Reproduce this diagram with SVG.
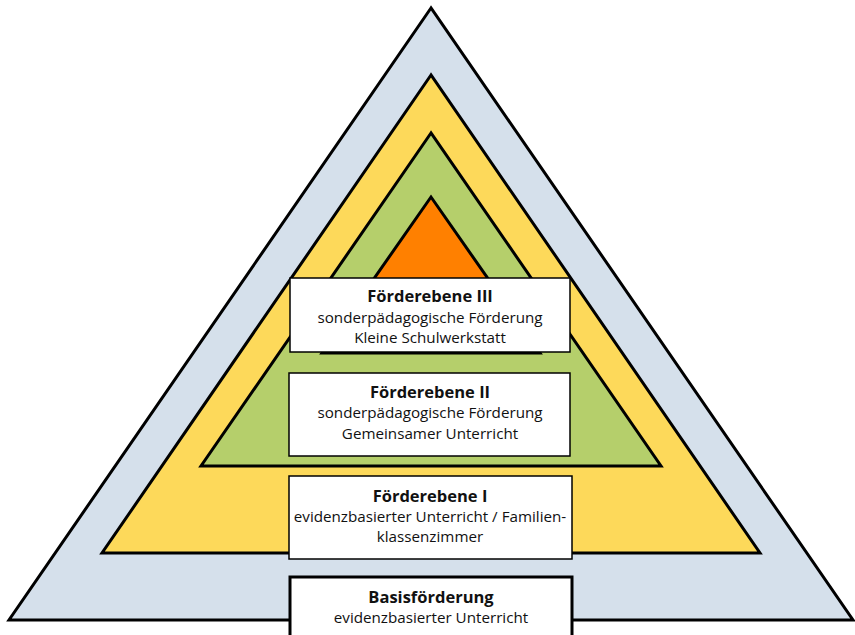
<svg xmlns="http://www.w3.org/2000/svg" width="855" height="635" viewBox="0 0 855 635">
<style>
.tri{stroke:#000;stroke-width:3;stroke-linejoin:miter}
.box{fill:#fff;stroke:#000;stroke-width:1.5}
.t{font-family:"Open Sans","Noto Sans","Liberation Sans",sans-serif;text-anchor:middle;fill:#111}
.h{font-size:16.5px;font-weight:bold}
.s{font-size:15.2px}
</style>
<rect width="855" height="635" fill="#fff"/>
<g id="layer-basis"><polygon class="tri" fill="#D5E0EB" points="431,8 9,620 853,620"/></g>
<g id="layer-1"><polygon class="tri" fill="#FDD95A" points="431,75 102,553 760,553"/></g>
<g id="layer-2"><polygon class="tri" fill="#B5CF6B" points="431,133 201,466 661,466"/></g>
<g id="layer-3"><polygon class="tri" fill="#FF8000" points="431,197 322,353 540,353"/></g>
<g id="box-3">
<rect class="box" x="290" y="278" width="280" height="74"/>
<text class="t h" x="430" y="302">Förderebene III</text>
<text class="t s" x="430" y="323">sonderpädagogische Förderung</text>
<text class="t s" x="430" y="343">Kleine Schulwerkstatt</text>
</g>
<g id="box-2">
<rect class="box" x="289" y="373" width="281" height="83"/>
<text class="t h" x="430" y="398">Förderebene II</text>
<text class="t s" x="430" y="418">sonderpädagogische Förderung</text>
<text class="t s" x="430" y="439">Gemeinsamer Unterricht</text>
</g>
<g id="box-1">
<rect class="box" x="289" y="476" width="283" height="83"/>
<text class="t h" x="430" y="502">Förderebene I</text>
<text class="t s" x="430" y="522">evidenzbasierter Unterricht / Familien-</text>
<text class="t s" x="430" y="542">klassenzimmer</text>
</g>
<g id="box-basis">
<rect x="290" y="577" width="282" height="70" fill="#fff" stroke="#000" stroke-width="3"/>
<text class="t h" x="431" y="603">Basisförderung</text>
<text class="t s" x="431" y="623">evidenzbasierter Unterricht</text>
</g>
<g id="connectors"></g>
</svg>
